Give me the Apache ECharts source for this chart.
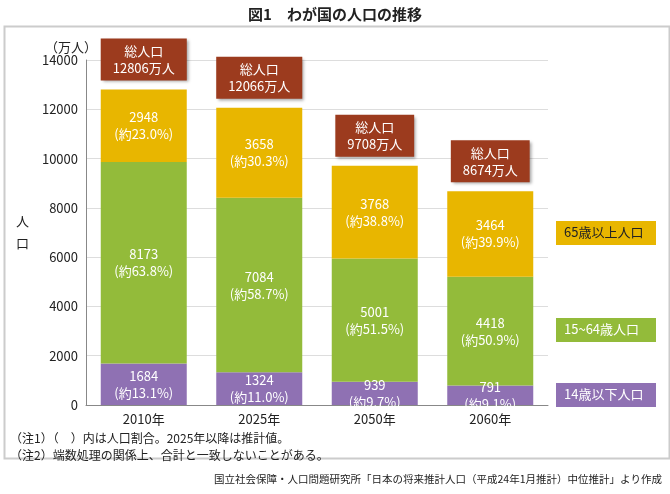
<!DOCTYPE html>
<html>
<head>
<meta charset="utf-8">
<script src="https://cdn.jsdelivr.net/npm/echarts@6/dist/echarts.min.js"></script>
<style>
  body { margin: 0; background: #fff; }
  #chart { width: 670px; height: 494px; }
</style>
</head>
<body>
<div id="chart"></div>
<script>
const years = ['2010年', '2025年', '2050年', '2060年'];
const young = [1684, 1324, 939, 791];
const youngPct = ['13.1', '11.0', '9.7', '9.1'];
const work = [8173, 7084, 5001, 4418];
const workPct = ['63.8', '58.7', '51.5', '50.9'];
const old = [2948, 3658, 3768, 3464];
const oldPct = ['23.0', '30.3', '38.8', '39.9'];
const totals = [12806, 12066, 9708, 8674];

const font = '"Noto Sans CJK JP", sans-serif';
const colors = { young: '#8f71b3', work: '#93bb3a', old: '#e8b600', box: '#9c3b1e' };

const innerLabel = pct => ({
  show: true,
  color: '#fff',
  fontSize: 13,
  fontFamily: font,
  lineHeight: 17,
  formatter: p => `${p.value}\n(約${pct[p.dataIndex]}%)`,
});

const chart = echarts.init(document.getElementById('chart'));

chart.setOption({
  textStyle: { fontFamily: font },
  title: {
    text: '図1　わが国の人口の推移',
    left: 'center',
    top: 2,
    textStyle: { fontSize: 15, fontWeight: 'bold', color: '#222' },
  },
  grid: { left: 86, right: 122, top: 60, bottom: 89 },
  xAxis: {
    type: 'category',
    data: years,
    axisTick: { show: false },
    axisLine: { lineStyle: { color: '#888' } },
    axisLabel: { color: '#222', fontSize: 13 },
  },
  yAxis: {
    type: 'value',
    min: 0,
    max: 14000,
    interval: 2000,
    name: '（万人）',
    nameGap: 6,
    nameTextStyle: { color: '#222', fontSize: 13, padding: [0, 30, 0, 0] },
    axisLine: { show: true, lineStyle: { color: '#888' } },
    axisLabel: { color: '#222', fontSize: 13, formatter: v => String(v) },
    splitLine: { lineStyle: { color: '#ddd' } },
  },
  series: [
    {
      type: 'bar', stack: 'p', barWidth: 86, data: young,
      itemStyle: { color: colors.young }, label: innerLabel(youngPct),
    },
    {
      type: 'bar', stack: 'p', data: work,
      itemStyle: { color: colors.work }, label: innerLabel(workPct),
    },
    {
      type: 'bar', stack: 'p', data: old,
      itemStyle: { color: colors.old },
      label: innerLabel(oldPct),
    },
    {
      type: 'bar', stack: 'p', data: [0, 0, 0, 0],
      label: {
        show: true,
        position: 'top',
        distance: 9,
        backgroundColor: colors.box,
        color: '#fff',
        fontSize: 13,
        lineHeight: 17,
        align: 'center',
        padding: [4, 12, 4, 12],
        shadowColor: 'rgba(0,0,0,0.35)',
        shadowBlur: 3,
        shadowOffsetX: 2,
        shadowOffsetY: 2,
        formatter: p => `総人口\n${totals[p.dataIndex]}万人`,
      },
    },
  ],
  graphic: [
    { type: 'rect', left: 2, top: 24, shape: { width: 665, height: 432 }, style: { fill: 'none', stroke: '#ccc', lineWidth: 2 } },
    { type: 'text', left: 16, top: 210, style: { text: '人\n口', fill: '#222', font: '13px ' + font, lineHeight: 22 } },
    { type: 'rect', left: 556, top: 221, shape: { width: 100, height: 24 }, style: { fill: colors.old } },
    { type: 'text', left: 564, top: 226, style: { text: '65歳以上人口', fill: '#222', font: '13px ' + font } },
    { type: 'rect', left: 556, top: 318, shape: { width: 100, height: 24 }, style: { fill: colors.work } },
    { type: 'text', left: 564, top: 323, style: { text: '15~64歳人口', fill: '#fff', font: '13px ' + font } },
    { type: 'rect', left: 556, top: 383, shape: { width: 100, height: 24 }, style: { fill: colors.young } },
    { type: 'text', left: 564, top: 388, style: { text: '14歳以下人口', fill: '#fff', font: '13px ' + font } },
    { type: 'text', left: 10, top: 430, style: { text: '（注1）（　）内は人口割合。2025年以降は推計値。\n（注2）端数処理の関係上、合計と一致しないことがある。', fill: '#222', font: '12px ' + font, lineHeight: 17 } },
    { type: 'text', right: 8, top: 474, style: { text: '国立社会保障・人口問題研究所「日本の将来推計人口（平成24年1月推計）中位推計」より作成', fill: '#222', font: '10.5px ' + font } },
  ],
});
</script>
</body>
</html>
